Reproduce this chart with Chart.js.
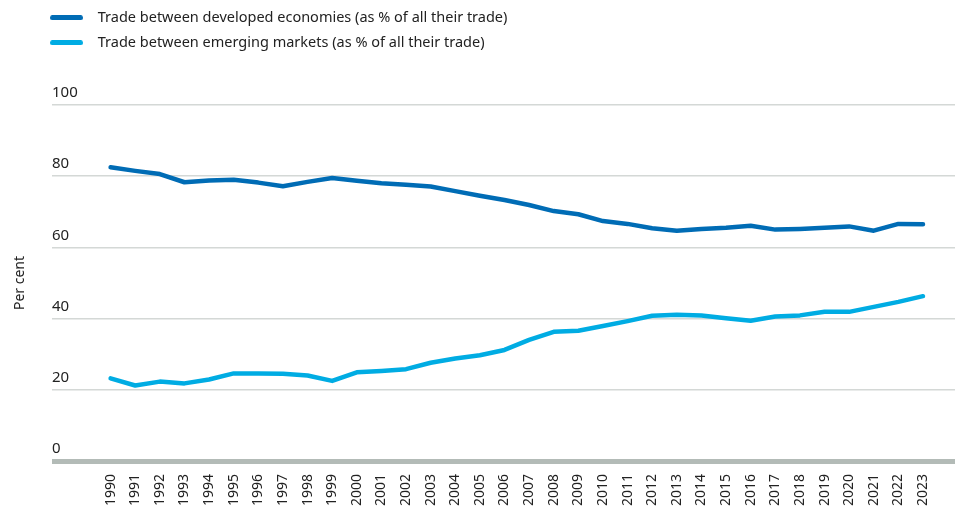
<!DOCTYPE html>
<html>
<head>
<meta charset="utf-8">
<title>Trade between developed economies and emerging markets</title>
<script src="https://cdn.jsdelivr.net/npm/chart.js@4.4.1/dist/chart.umd.min.js"></script>
<style>
  html, body { margin: 0; padding: 0; background: #fff; }
  #wrap { width: 955px; height: 513px; }
</style>
</head>
<body>
<div id="wrap"><canvas id="myChart" width="955" height="513"></canvas></div>
<script>
const years = [1990, 1991, 1992, 1993, 1994, 1995, 1996, 1997, 1998, 1999,
    2000, 2001, 2002, 2003, 2004, 2005, 2006, 2007, 2008, 2009,
    2010, 2011, 2012, 2013, 2014, 2015, 2016, 2017, 2018, 2019,
    2020, 2021, 2022, 2023];

const developed = [82.5, 81.5, 80.6, 78.3, 78.8, 79.0, 78.2, 77.2, 78.4, 79.5,
    78.7, 78.0, 77.6, 77.1, 75.8, 74.5, 73.3, 71.9, 70.2, 69.3,
    67.4, 66.6, 65.4, 64.7, 65.2, 65.5, 66.1, 65.0, 65.2, 65.5,
    65.9, 64.7, 66.6, 66.5];

const emerging = [23.2, 21.2, 22.3, 21.8, 22.9, 24.6, 24.6, 24.5, 24.0, 22.5,
    24.9, 25.3, 25.8, 27.6, 28.8, 29.7, 31.2, 34.0, 36.3, 36.6,
    37.9, 39.3, 40.8, 41.1, 40.9, 40.1, 39.4, 40.6, 40.9, 41.9,
    41.9, 43.3, 44.7, 46.3];

const seriesNames = [
    "Trade between developed economies (as % of all their trade)",
    "Trade between emerging markets (as % of all their trade)"
];
const yTicks = [0, 20, 40, 60, 80, 100];

const darkBlue = "#006cb5";
const lightBlue = "#00ace3";
const fontName = "'Noto Sans', 'DejaVu Sans', sans-serif";

function points(vals) {
    return years.map(function(y, i) { return {x: y, y: vals[i]}; });
}

// small rounded bar used as the legend swatch
function swatch(color) {
    const c = document.createElement("canvas");
    c.width = 33;
    c.height = 5;
    const ctx = c.getContext("2d");
    ctx.fillStyle = color;
    ctx.beginPath();
    ctx.roundRect(0, 0, 33, 5, 2.5);
    ctx.fill();
    return c;
}

// legend on two rows, top-left, with room below it
const legendRows = {
    id: "legendRows",
    afterInit(chart) {
        const lg = chart.legend;
        const update = lg.update.bind(lg);
        lg.update = function(w, h, m) {
            update(Math.min(w, 560), h, m);
            this.height = 105;
        };
    },
    afterLayout(chart) {
        chart.legend.left = 32;
        chart.legend.right = 600;
    }
};

new Chart("myChart", {
    type: "line",
    data: {
        datasets: [{
            label: seriesNames[0],
            data: points(developed),
            borderColor: darkBlue,
            backgroundColor: darkBlue,
            borderWidth: 4.5,
            pointRadius: 0,
            borderCapStyle: "round",
            borderJoinStyle: "round",
            tension: 0
        }, {
            label: seriesNames[1],
            data: points(emerging),
            borderColor: lightBlue,
            backgroundColor: lightBlue,
            borderWidth: 4.5,
            pointRadius: 0,
            borderCapStyle: "round",
            borderJoinStyle: "round",
            tension: 0
        }]
    },
    options: {
        responsive: false,
        animation: false,
        devicePixelRatio: 1,
        layout: {padding: 0},
        plugins: {
            tooltip: {enabled: false},
            legend: {
                position: "top",
                align: "start",
                labels: {
                    usePointStyle: true,
                    pointStyleWidth: 48,
                    boxHeight: 5,
                    padding: 10.5,
                    color: "#222",
                    font: {family: fontName, size: 14.5},
                    generateLabels: function(chart) {
                        return chart.data.datasets.map(function(ds, i) {
                            return {
                                text: ds.label,
                                fillStyle: ds.borderColor,
                                strokeStyle: ds.borderColor,
                                lineWidth: 0,
                                pointStyle: swatch(ds.borderColor),
                                hidden: false,
                                datasetIndex: i,
                                fontColor: "#222"
                            };
                        });
                    }
                }
            }
        },
        scales: {
            x: {
                type: "linear",
                min: 1987.62,
                max: 2024.3,
                afterBuildTicks: function(scale) {
                    scale.ticks = years.map(function(y) { return {value: y}; });
                },
                afterFit: function(scale) { scale.height = 52; },
                grid: {display: false},
                border: {display: false},
                ticks: {
                    autoSkip: false,
                    minRotation: 90,
                    maxRotation: 90,
                    padding: 5,
                    color: "#222",
                    font: {family: fontName, size: 14},
                    callback: function(v) { return String(v); }
                }
            },
            y: {
                min: 0,
                max: 100,
                afterBuildTicks: function(scale) {
                    scale.ticks = yTicks.map(function(v) { return {value: v}; });
                },
                afterFit: function(scale) { scale.width = 52; },
                border: {display: false},
                grid: {
                    drawTicks: false,
                    color: function(c) { return c.tick && c.tick.value === 0 ? "#b3bbb7" : "#d4d8d6"; },
                    lineWidth: function(c) { return c.tick && c.tick.value === 0 ? 5 : 1.5; }
                },
                ticks: {
                    mirror: true,
                    padding: 0,
                    labelOffset: -12,
                    color: "#222",
                    font: {family: fontName, size: 15}
                },
                title: {
                    display: true,
                    text: "Per cent",
                    color: "#222",
                    padding: {top: 12, bottom: 0},
                    font: {family: fontName, size: 14}
                }
            }
        }
    },
    plugins: [legendRows]
});
</script>
</body>
</html>
